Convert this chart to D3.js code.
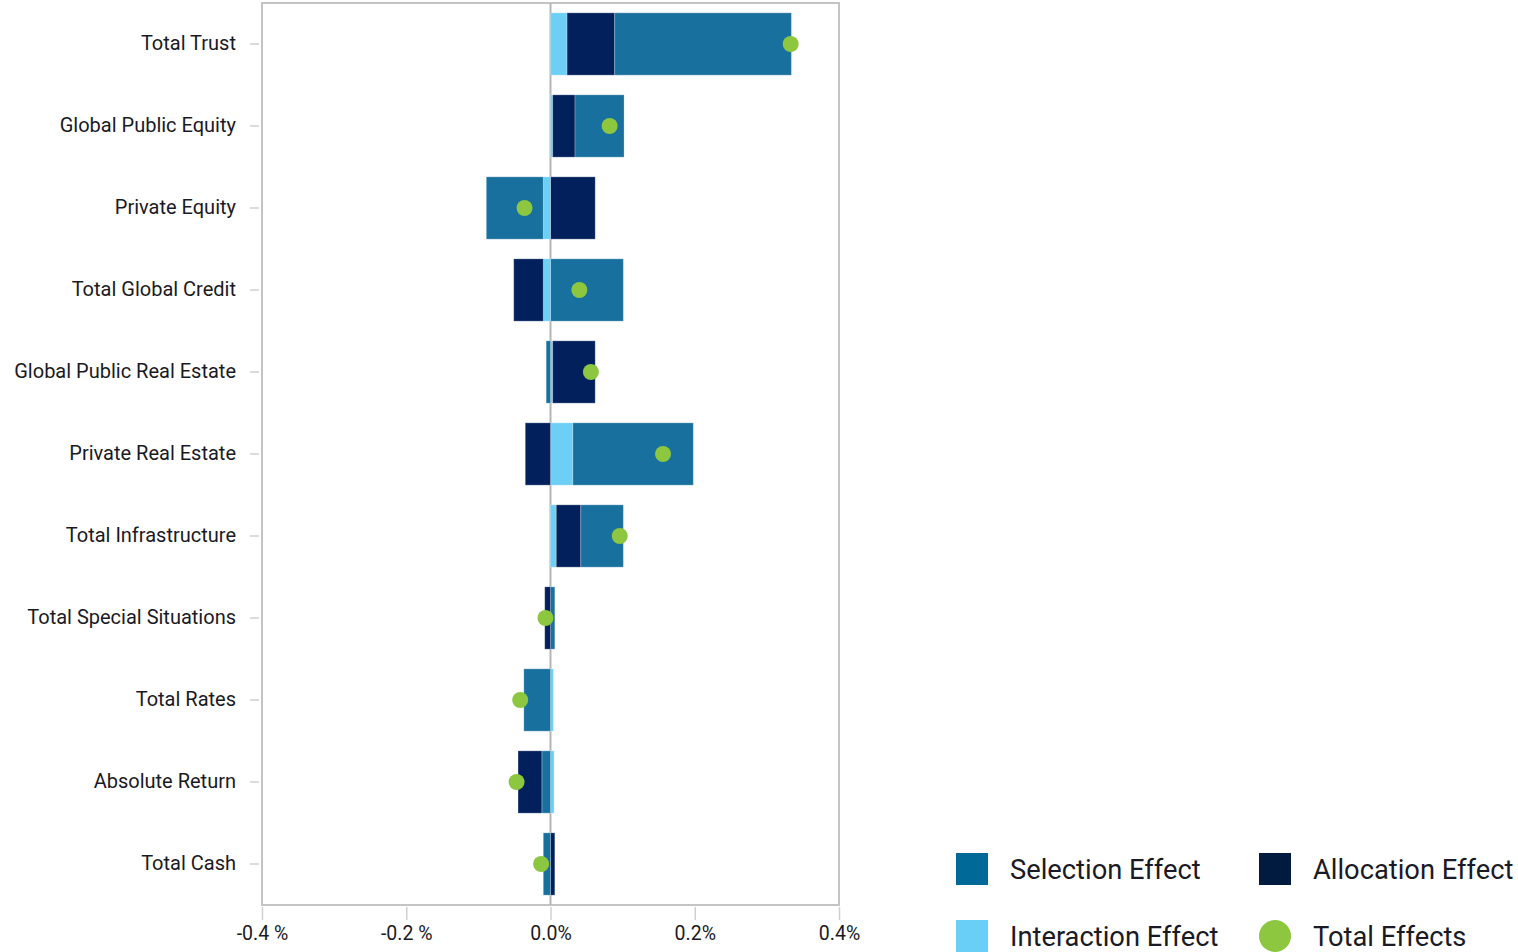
<!DOCTYPE html>
<html>
<head>
<meta charset="utf-8">
<script src="https://cdn.jsdelivr.net/npm/d3@7/dist/d3.min.js"></script>
<style>
  html, body { margin: 0; padding: 0; background: #fff; }
  svg { display: block; font-family: Roboto, "Noto Sans", sans-serif; }
</style>
</head>
<body>
<svg id="chart" width="1518" height="952"></svg>
<script>
// Attribution effects by asset class, in percent
const categories = [
  "Total Trust", "Global Public Equity", "Private Equity", "Total Global Credit",
  "Global Public Real Estate", "Private Real Estate", "Total Infrastructure",
  "Total Special Situations", "Total Rates", "Absolute Return", "Total Cash"
];
const selectionEffect   = [0.245, 0.068, -0.079, 0.101, -0.006, 0.167, 0.059, 0.006, -0.037, -0.012, -0.010];
const allocationEffect  = [0.066, 0.031,  0.062, -0.041, 0.059, -0.035, 0.034, -0.008, 0.000, -0.033, 0.006];
const interactionEffect = [0.023, 0.003, -0.010, -0.010, 0.003, 0.031, 0.008, 0.000, 0.004, 0.005, 0.000];
const totalEffects      = [0.333, 0.082, -0.036, 0.040, 0.056, 0.156, 0.096, -0.007, -0.042, -0.047, -0.013];
const xTicks = [-0.4, -0.2, 0, 0.2, 0.4];
const xTickLabels = ["-0.4 %", "-0.2 %", "0.0%", "0.2%", "0.4%"];

const colors = {
  Selection: "#17709e",
  Allocation: "#02205c",
  Interaction: "#6dcff6",
  Total: "#8dc63f"
};

const rows = categories.map((c, i) => ({
  category: c,
  Selection: selectionEffect[i],
  Allocation: allocationEffect[i],
  Interaction: interactionEffect[i]
}));

const svg = d3.select("#chart");
const plot = { left: 262, right: 839, top: 3, bottom: 905 };

const x = d3.scaleLinear().domain([-0.4, 0.4]).range([plot.left, plot.right]);
const y = d3.scaleBand().domain(categories).range([plot.top, plot.bottom])
  .paddingInner(0.24).paddingOuter(0.12);

// Positive parts stack outward as Interaction, Allocation, Selection;
// negative parts stack outward as Interaction, Selection, Allocation.
const posStack = d3.stack()
  .keys(["Interaction", "Allocation", "Selection"])
  .value((d, k) => Math.max(0, d[k]))(rows);
const negStack = d3.stack()
  .keys(["Interaction", "Selection", "Allocation"])
  .value((d, k) => Math.min(0, d[k]))
  .offset(d3.stackOffsetDiverging)(rows);

// Frame
svg.append("rect")
  .attr("x", plot.left).attr("y", plot.top)
  .attr("width", plot.right - plot.left).attr("height", plot.bottom - plot.top)
  .attr("fill", "none").attr("stroke", "#c4c4c4").attr("stroke-width", 2);

// Zero line
svg.append("line")
  .attr("x1", x(0)).attr("x2", x(0))
  .attr("y1", plot.top).attr("y2", plot.bottom)
  .attr("stroke", "#b5b5b5").attr("stroke-width", 2);

// Bars
const barLayer = svg.append("g");
[posStack, negStack].forEach(stack => {
  stack.forEach(series => {
    barLayer.append("g")
      .attr("fill", colors[series.key])
      .selectAll("rect")
      .data(series.filter(s => s[1] !== s[0]))
      .join("rect")
      .attr("x", s => x(Math.min(s[0], s[1])))
      .attr("width", s => Math.abs(x(s[1]) - x(s[0])))
      .attr("y", s => y(s.data.category))
      .attr("height", y.bandwidth())
      .attr("stroke", "#ffffff").attr("stroke-opacity", 0.25).attr("stroke-width", 1);
  });
});

// Total effect markers
svg.append("g").selectAll("circle")
  .data(categories.map((c, i) => ({ c, v: totalEffects[i] })))
  .join("circle")
  .attr("cx", d => x(d.v))
  .attr("cy", d => y(d.c) + y.bandwidth() / 2)
  .attr("r", 8)
  .attr("fill", colors.Total);

// Category axis
const yAxis = svg.append("g").attr("transform", `translate(${plot.left},0)`)
  .call(d3.axisLeft(y).tickSize(12).tickPadding(14));
yAxis.select(".domain").remove();
yAxis.selectAll(".tick line").attr("stroke", "#d0d0d0").attr("stroke-width", 1.5)
  .attr("x1", -3);
yAxis.selectAll(".tick text")
  .attr("font-size", 20).attr("fill", "#1a1a24")
  .attr("font-family", "Roboto, sans-serif");

// Value axis
const xAxis = svg.append("g").attr("transform", `translate(0,${plot.bottom + 2})`)
  .call(d3.axisBottom(x).tickValues(xTicks)
    .tickFormat((d, i) => xTickLabels[i]).tickSize(13).tickPadding(6));
xAxis.select(".domain").remove();
xAxis.selectAll(".tick line").attr("stroke", "#d0d0d0").attr("stroke-width", 1.5);
xAxis.selectAll(".tick text")
  .attr("font-size", 19.5).attr("fill", "#1a1a24")
  .attr("font-family", "Roboto, sans-serif");

// Legend
const legendItems = [
  { label: "Selection Effect", key: "Selection", shape: "rect", lx: 956, ly: 853 },
  { label: "Allocation Effect", key: "Allocation", shape: "rect", lx: 1259, ly: 853 },
  { label: "Interaction Effect", key: "Interaction", shape: "rect", lx: 956, ly: 920 },
  { label: "Total Effects", key: "Total", shape: "circle", lx: 1259, ly: 920 }
];
const legendColors = {
  Selection: "#006998",
  Allocation: "#001a40",
  Interaction: "#6acff6",
  Total: "#8dc63f"
};
const legend = svg.append("g").selectAll("g").data(legendItems).join("g")
  .attr("transform", d => `translate(${d.lx},${d.ly})`);
legend.filter(d => d.shape === "rect").append("rect")
  .attr("width", 32).attr("height", 32)
  .attr("fill", d => legendColors[d.key]);
legend.filter(d => d.shape === "circle").append("circle")
  .attr("cx", 16).attr("cy", 16).attr("r", 16)
  .attr("fill", d => legendColors[d.key]);
legend.append("text")
  .attr("x", 54).attr("y", 16).attr("dy", "0.36em")
  .attr("font-size", 27.3).attr("fill", "#1a1a24")
  .attr("font-family", "Roboto, sans-serif")
  .text(d => d.label);
</script>
</body>
</html>
